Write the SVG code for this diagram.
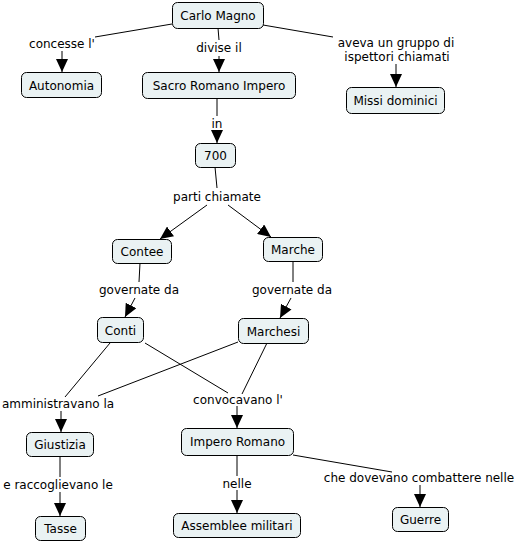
<svg xmlns="http://www.w3.org/2000/svg" width="518" height="542" viewBox="0 0 518 542">
<defs>
<marker id="ah" markerUnits="userSpaceOnUse" markerWidth="13" markerHeight="12" refX="13" refY="6" orient="auto">
<path d="M0,0 L13,6 L0,12 z" fill="#000"/>
</marker>
<style>
.n rect{fill:#eaf2f3;stroke:#000;stroke-width:1}
text{font-family:"DejaVu Sans",Verdana,sans-serif;font-size:12px;fill:#000;text-anchor:middle}
.c line{stroke:#000;stroke-width:1}
.c .a{marker-end:url(#ah)}
</style>
</defs>
<rect width="518" height="542" fill="#fff"/>
<g class="c">
<line x1="172" y1="24" x2="95" y2="37"/>
<line class="a" x1="62" y1="51" x2="62" y2="72"/>
<line x1="218" y1="28" x2="219" y2="40"/>
<line class="a" x1="219" y1="56" x2="219" y2="72"/>
<line x1="263" y1="25" x2="333" y2="37"/>
<line class="a" x1="396" y1="64" x2="396" y2="87"/>
<line x1="217" y1="98" x2="217" y2="116"/>
<line class="a" x1="217" y1="130" x2="217" y2="143"/>
<line x1="215" y1="167" x2="217" y2="188"/>
<line class="a" x1="207" y1="205" x2="160" y2="239"/>
<line class="a" x1="228" y1="205" x2="271" y2="237"/>
<line x1="140" y1="263" x2="139" y2="282"/>
<line class="a" x1="135" y1="298" x2="125" y2="317"/>
<line x1="293" y1="261" x2="293" y2="282"/>
<line class="a" x1="291" y1="298" x2="280" y2="318"/>
<line x1="110" y1="343" x2="65" y2="397"/>
<line x1="145" y1="343" x2="228" y2="393"/>
<line x1="238" y1="342" x2="98" y2="396"/>
<line x1="267" y1="343" x2="242" y2="394"/>
<line class="a" x1="61" y1="411" x2="61" y2="432"/>
<line class="a" x1="237" y1="406" x2="237" y2="428"/>
<line x1="60" y1="456" x2="60" y2="477"/>
<line class="a" x1="60" y1="492" x2="60" y2="516"/>
<line x1="237" y1="455" x2="237" y2="476"/>
<line class="a" x1="237" y1="490" x2="237" y2="513"/>
<line x1="293" y1="455" x2="392" y2="472"/>
<line class="a" x1="420" y1="485" x2="420" y2="507"/>
</g>
<g id="labels">
<text x="62" y="48">concesse l'</text>
<text x="219" y="52">divise il</text>
<text x="396" y="47">aveva un gruppo di</text>
<text x="397" y="61">ispettori chiamati</text>
<text x="217" y="128">in</text>
<text x="217" y="201">parti chiamate</text>
<text x="139" y="294">governate da</text>
<text x="292" y="294">governate da</text>
<text x="58" y="408">amministravano la</text>
<text x="238" y="404">convocavano l'</text>
<text x="58" y="489">e raccoglievano le</text>
<text x="237" y="488">nelle</text>
<text x="419" y="482">che dovevano combattere nelle</text>
</g>
<g id="carlo" class="n"><rect x="172.5" y="2.5" width="91" height="26" rx="5"/><text x="218" y="20">Carlo Magno</text></g>
<g id="autonomia" class="n"><rect x="21.5" y="72.5" width="80" height="25" rx="5"/><text x="61.5" y="89.5">Autonomia</text></g>
<g id="sacro" class="n"><rect x="142.5" y="72.5" width="153" height="26" rx="5"/><text x="219" y="90">Sacro Romano Impero</text></g>
<g id="missi" class="n"><rect x="346.5" y="87.5" width="98" height="26" rx="5"/><text x="395.5" y="105">Missi dominici</text></g>
<g id="n700" class="n"><rect x="195.5" y="143.5" width="40" height="24" rx="5"/><text x="215.5" y="160">700</text></g>
<g id="contee" class="n"><rect x="112.5" y="239.5" width="59" height="24" rx="5"/><text x="142" y="256">Contee</text></g>
<g id="marche" class="n"><rect x="263.5" y="237.5" width="59" height="24" rx="5"/><text x="293" y="254">Marche</text></g>
<g id="conti" class="n"><rect x="97.5" y="317.5" width="46" height="25" rx="5"/><text x="120.5" y="334.5">Conti</text></g>
<g id="marchesi" class="n"><rect x="238.5" y="318.5" width="70" height="25" rx="5"/><text x="273.5" y="335.5">Marchesi</text></g>
<g id="giustizia" class="n"><rect x="26.5" y="432.5" width="67" height="24" rx="5"/><text x="60" y="449">Giustizia</text></g>
<g id="impero" class="n"><rect x="181.5" y="428.5" width="112" height="27" rx="5"/><text x="237.5" y="446">Impero Romano</text></g>
<g id="tasse" class="n"><rect x="35.5" y="516.5" width="50" height="24" rx="5"/><text x="60.5" y="533">Tasse</text></g>
<g id="assemblee" class="n"><rect x="173.5" y="513.5" width="127" height="24" rx="5"/><text x="237" y="530">Assemblee militari</text></g>
<g id="guerre" class="n"><rect x="392.5" y="507.5" width="56" height="24" rx="5"/><text x="420.5" y="524">Guerre</text></g>
</svg>
